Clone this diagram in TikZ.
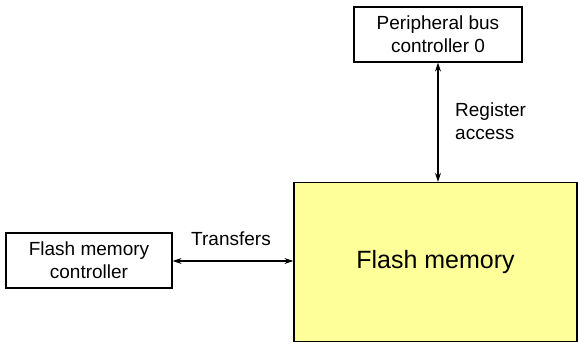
\documentclass[tikz,border=0pt]{standalone}
\usepackage{fontspec}
\setmainfont{Liberation Sans}
\usetikzlibrary{arrows.meta}
\definecolor{memyellow}{RGB}{255,255,153}
\begin{document}
\begin{tikzpicture}[x=1pt,y=-1pt,
  box/.style={draw=black,line width=1.2pt,fill=white,inner sep=0pt,align=center,
    font=\fontsize{19}{23}\selectfont},
  bigbox/.style={draw=black,line width=1.3pt,fill=memyellow,inner sep=0pt,
    font=\fontsize{25}{30}\selectfont},
  lbl/.style={inner sep=0pt,font=\fontsize{19}{23}\selectfont},
  conn/.style={line width=1.2pt,{Stealth[length=9pt,width=6pt]}-{Stealth[length=9pt,width=6pt]}}]
\useasboundingbox (0,0) rectangle (578,343);
\node[box,minimum width=168pt,minimum height=55pt] (pbc) at (438,34.5) {Peripheral bus\\controller 0};
\node[bigbox,minimum width=283pt,minimum height=159pt] (fm) at (435.5,262) {Flash memory};
\node[box,minimum width=166pt,minimum height=55pt] (fmc) at (89,260.5) {Flash memory\\controller};
\draw[conn] (pbc.south) -- (pbc.south |- fm.north);
\draw[conn] (fmc.east |- 0,261) coordinate (a) -- (fm.west |- a);
\node[lbl,align=left,anchor=west] (ra) at (455,121) {Register\\access};
\node[lbl] (tr) at (231,239) {Transfers};
\end{tikzpicture}
\end{document}
